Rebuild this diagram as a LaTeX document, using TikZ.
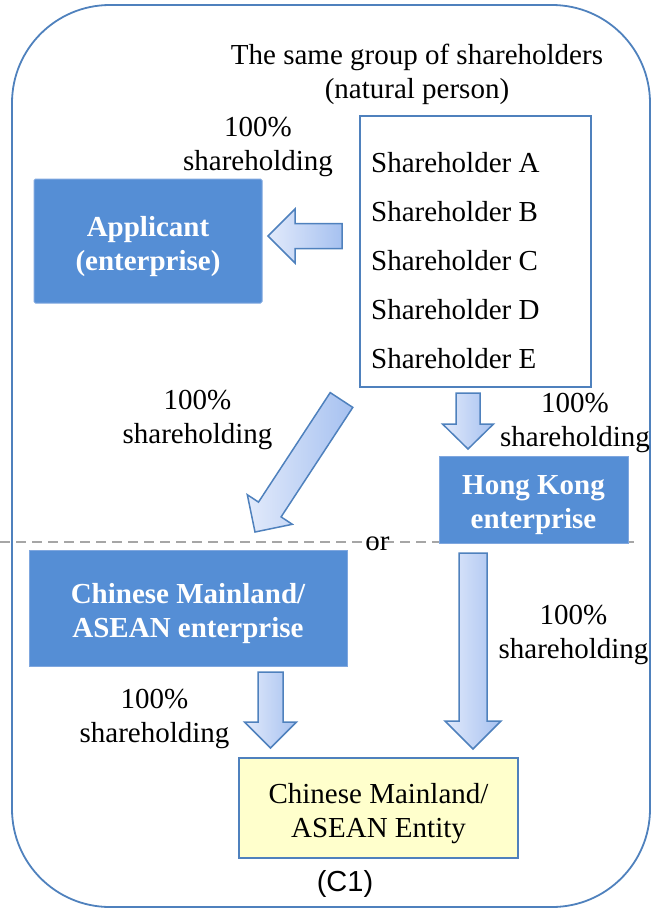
\documentclass[tikz,border=0pt]{standalone}
\usepackage{fontspec}
\setmainfont{Liberation Serif}
\newfontfamily\arialfont{Liberation Sans}
\definecolor{frameblue}{HTML}{4F81BD}
\definecolor{boxfill}{HTML}{558ED5}
\definecolor{boxline}{HTML}{7FA7DF}
\definecolor{arrlight}{HTML}{E2EAFB}
\definecolor{arrdark}{HTML}{A6C1F0}
\definecolor{entityfill}{HTML}{FFFFCC}
\definecolor{dashgray}{HTML}{A6A6A6}
\newcommand{\lowerstrut}{\rule{0pt}{31pt}}
\tikzset{
  txt/.style={font=\fontsize{29}{34}\selectfont, align=center, inner sep=0pt},
  bluebox/.style={rectangle, fill=boxfill, draw=boxline, line width=1pt,
    text=white, font=\fontsize{29}{34}\selectfont\bfseries, align=center, inner sep=0pt},
  entitybox/.style={rectangle, fill=entityfill, draw=frameblue, line width=1.5pt,
    font=\fontsize{29}{34}\selectfont, align=center, inner sep=0pt},
  listbox/.style={rectangle, fill=white, draw=frameblue, line width=2pt, inner sep=0pt},
  blockarrow/.style={left color=arrlight, right color=arrdark, draw=frameblue, line width=1.5pt, line join=miter},
  sharetxt/.style={font=\fontsize{29}{34}\selectfont, anchor=base west, inner sep=0pt}
}
\begin{document}
\begin{tikzpicture}[x=1pt,y=-1pt]
\useasboundingbox (0,0) rectangle (654,908);
% outer frame
\draw[frameblue, line width=1.8pt, rounded corners=98pt] (12,5) rectangle (650,907);
% dashed separator
\coordinate (dl) at (0,542);
\coordinate (dr) at (636,542);
\draw[dashgray, line width=1.5pt, dash pattern=on 10pt off 6pt] (dl) -- (dr);

% title
\node[txt] (title) at (417,74) {The same group of shareholders\\(natural person)};

% shareholder list
\node[listbox, minimum width=231pt, minimum height=271pt] (list) at (475.5,251.5) {};
\node[sharetxt] (sa) at (371,172) {Shareholder A};
\node[sharetxt] (sb) at (371,221) {Shareholder B};
\node[sharetxt] (sc) at (371,270) {Shareholder C};
\node[sharetxt] (sd) at (371,319) {Shareholder D};
\node[sharetxt] (se) at (371,368) {Shareholder E};

% boxes
\node[bluebox, minimum width=228pt, minimum height=124pt, rounded corners=1.5pt] (app) at (148,241) {\lowerstrut Applicant\\(enterprise)};
\node[bluebox, minimum width=189pt, minimum height=87pt] (hk) at (533.5,499.5) {\lowerstrut Hong Kong\\enterprise};
\node[bluebox, minimum width=318pt, minimum height=116pt] (cm) at (188,608) {\lowerstrut Chinese Mainland/\\ASEAN enterprise};
\node[entitybox, minimum width=279pt, minimum height=100pt] (ent) at (378.5,808) {\lowerstrut Chinese Mainland/\\ASEAN Entity};

% labels
\node[txt] (l1) at (258,147) {100\%\\shareholding};
\node[txt] (l2) at (197.5,420) {100\%\\shareholding};
\node[txt] (l3) at (575,423) {100\%\\shareholding};
\node[txt] (l4) at (573.5,635) {100\%\\shareholding};
\node[txt] (l5) at (154.5,719) {100\%\\shareholding};
\node[font=\fontsize{29}{34}\selectfont, anchor=base, inner sep=0pt] (or) at (377.5,550) {or};
\node[font=\arialfont\fontsize{29}{34}\selectfont, anchor=base, inner sep=0pt] (c1) at (345,891) {(C1)};

% block arrows
% list -> applicant (left)
\shade[blockarrow] (342,223.5) -- (295,223.5) -- (295,209) -- (268,236) -- (295,263) -- (295,248.5) -- (342,248.5) -- cycle;
% list -> CM (diagonal)
\shade[blockarrow] (330.2,392.6) -- (258.5,502.1) -- (247.3,494.7) -- (255,532) -- (292.3,524.3) -- (281.1,516.9) -- (352.8,407.4) -- cycle;
% list -> HK (down)
\shade[blockarrow] (456,393) -- (456,424) -- (442.5,424) -- (468,449) -- (493.5,424) -- (480,424) -- (480,393) -- cycle;
% HK -> entity (long down)
\shade[blockarrow] (459,553) -- (459,721) -- (445,721) -- (473,749) -- (501,721) -- (487,721) -- (487,553) -- cycle;
% CM -> entity (down)
\shade[blockarrow] (258,672) -- (258,722) -- (244.5,722) -- (270.5,748) -- (296.5,722) -- (283,722) -- (283,672) -- cycle;
\end{tikzpicture}
\end{document}
